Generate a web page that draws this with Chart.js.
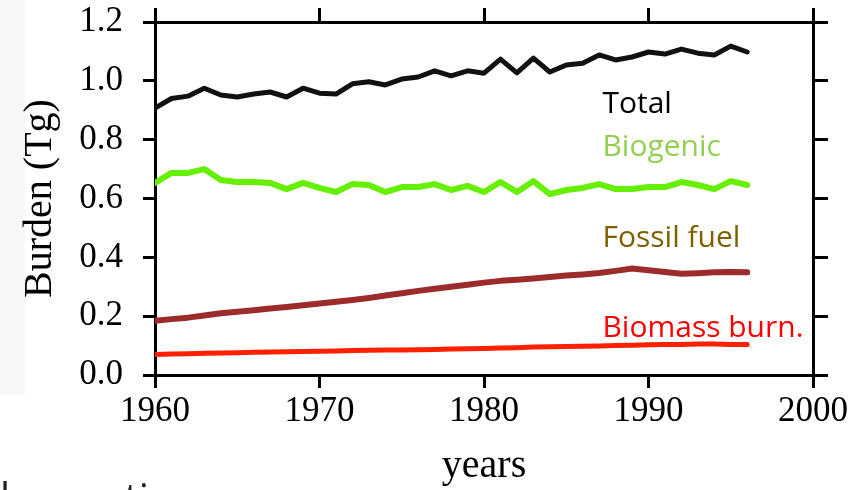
<!DOCTYPE html>
<html>
<head>
<meta charset="utf-8">
<script src="https://cdn.jsdelivr.net/npm/chart.js@4/dist/chart.umd.min.js"></script>
<style>
  html, body { margin: 0; padding: 0; background: #fff; }
  #wrap { width: 867px; height: 490px; position: relative; }
</style>
</head>
<body>
<div id="wrap"><canvas id="chart" width="867" height="490"></canvas></div>
<script>
const years = [1960, 1961, 1962, 1963, 1964, 1965, 1966, 1967, 1968, 1969,
               1970, 1971, 1972, 1973, 1974, 1975, 1976, 1977, 1978, 1979,
               1980, 1981, 1982, 1983, 1984, 1985, 1986, 1987, 1988, 1989,
               1990, 1991, 1992, 1993, 1994, 1995, 1996];

const total = [0.907, 0.940, 0.948, 0.975, 0.952, 0.945, 0.955, 0.962, 0.945, 0.975,
               0.958, 0.955, 0.990, 0.997, 0.986, 1.006, 1.013, 1.034, 1.017, 1.034,
               1.026, 1.074, 1.027, 1.077, 1.030, 1.054, 1.060, 1.088, 1.071, 1.081,
               1.098, 1.091, 1.108, 1.094, 1.088, 1.118, 1.098];

const biogenic = [0.653, 0.687, 0.687, 0.700, 0.663, 0.656, 0.656, 0.653, 0.632, 0.653,
                  0.636, 0.622, 0.649, 0.646, 0.622, 0.639, 0.639, 0.649, 0.629, 0.643,
                  0.622, 0.656, 0.622, 0.659, 0.615, 0.629, 0.636, 0.649, 0.632, 0.632,
                  0.639, 0.639, 0.656, 0.646, 0.632, 0.659, 0.646];

const fossil = [0.184, 0.190, 0.195, 0.202, 0.210, 0.215, 0.220, 0.226, 0.231, 0.237,
                0.243, 0.249, 0.255, 0.262, 0.270, 0.278, 0.286, 0.293, 0.300, 0.307,
                0.314, 0.320, 0.324, 0.328, 0.333, 0.338, 0.342, 0.347, 0.354, 0.362,
                0.356, 0.350, 0.344, 0.346, 0.349, 0.350, 0.349];

const biomass = [0.070, 0.071, 0.072, 0.074, 0.075, 0.076, 0.077, 0.078, 0.079, 0.080,
                 0.081, 0.082, 0.083, 0.084, 0.085, 0.085, 0.086, 0.087, 0.088, 0.089,
                 0.090, 0.092, 0.093, 0.095, 0.096, 0.097, 0.098, 0.099, 0.100, 0.101,
                 0.103, 0.104, 0.104, 0.105, 0.105, 0.104, 0.104];

const seriesNames = ["Total", "Biogenic", "Fossil fuel", "Biomass burn."];

// where the in-plot labels sit, in data units (year, burden at baseline)
const labelX = 1987.2;
const labelY = [0.891, 0.744, 0.435, 0.129];
const labelColors = ["#000000", "#92d050", "#7f6000", "#ff0000"];

function pts(vals) {
    return years.map((yr, i) => ({ x: yr, y: vals[i] }));
}

function axisGrid(len) {
    return {
        drawOnChartArea: false,
        drawTicks: true,
        tickLength: len,
        color: "#000",
        lineWidth: 3
    };
}

const border = { display: true, color: "#000", width: 3 };
const tickFont = { family: "Liberation Serif", size: 35 };

const seriesLabels = {
    id: "seriesLabels",
    afterDatasetsDraw(chart) {
        const ctx = chart.ctx;
        const x = chart.scales.x.getPixelForValue(labelX);
        ctx.save();
        ctx.font = "30px 'Open Sans'";
        ctx.textAlign = "left";
        ctx.textBaseline = "alphabetic";
        seriesNames.forEach((name, i) => {
            ctx.fillStyle = labelColors[i];
            ctx.fillText(name, x, chart.scales.y.getPixelForValue(labelY[i]));
        });
        ctx.restore();
    }
};

const backdrop = {
    id: "backdrop",
    beforeDraw(chart) {
        const ctx = chart.ctx;
        ctx.save();
        ctx.fillStyle = "#fff";
        ctx.fillRect(0, 0, chart.width, chart.height);
        ctx.fillStyle = "#f7f7f7";
        ctx.fillRect(0, 0, 25, 395);
        ctx.restore();
    },
    afterDraw(chart) {
        // cut-off caption from the slide under the figure
        const ctx = chart.ctx;
        ctx.save();
        ctx.font = "40px 'Open Sans'";
        ctx.fillStyle = "#222";
        ctx.textBaseline = "alphabetic";
        ctx.fillText("bservation", 0, 512);
        ctx.restore();
    }
};

// keep tick label overhang from pushing the plot area around
function noPad(s) {
    s.paddingTop = 0;
    s.paddingBottom = 0;
}

new Chart(document.getElementById("chart"), {
    type: "line",
    data: {
        datasets: [
            { label: seriesNames[0], data: pts(total), borderColor: "#111111", borderWidth: 5 },
            { label: seriesNames[1], data: pts(biogenic), borderColor: "#66f000", borderWidth: 6 },
            { label: seriesNames[2], data: pts(fossil), borderColor: "#9c2c2c", borderWidth: 6 },
            { label: seriesNames[3], data: pts(biomass), borderColor: "#ff2000", borderWidth: 5 }
        ]
    },
    options: {
        responsive: false,
        animation: false,
        layout: { padding: 0 },
        elements: {
            point: { radius: 0 },
            line: { tension: 0, borderCapStyle: "round", borderJoinStyle: "round" }
        },
        plugins: {
            legend: { display: false },
            tooltip: { enabled: false }
        },
        scales: {
            x: {
                type: "linear",
                position: "bottom",
                min: 1960,
                max: 2000,
                ticks: {
                    stepSize: 10,
                    color: "#000",
                    font: tickFont,
                    padding: 3,
                    maxRotation: 0,
                    callback: v => String(v)
                },
                grid: axisGrid(13),
                border: border,
                title: {
                    display: true,
                    text: "years",
                    color: "#000",
                    font: { family: "Liberation Serif", size: 40 },
                    padding: { top: 0, bottom: 0 }
                },
                afterFit: s => { s.height = 115; s.paddingLeft = 0; s.paddingRight = 0; }
            },
            x2: {
                type: "linear",
                position: "top",
                min: 1960,
                max: 2000,
                ticks: { stepSize: 10, display: false },
                grid: axisGrid(14),
                border: border,
                afterFit: s => { s.height = 22; s.paddingLeft = 0; s.paddingRight = 0; }
            },
            y: {
                position: "left",
                min: 0,
                max: 1.2,
                ticks: {
                    stepSize: 0.2,
                    color: "#000",
                    font: tickFont,
                    padding: 20,
                    callback: v => v.toFixed(1)
                },
                grid: axisGrid(12),
                border: border,
                title: {
                    display: true,
                    text: "Burden (Tg)",
                    color: "#000",
                    font: { family: "Liberation Serif", size: 40 },
                    padding: { top: 16, bottom: 0 }
                },
                afterFit: s => { s.width = 155; noPad(s); }
            },
            y2: {
                position: "right",
                min: 0,
                max: 1.2,
                ticks: { stepSize: 0.2, display: false },
                grid: axisGrid(15),
                border: border,
                afterFit: s => { s.width = 54; noPad(s); }
            }
        }
    },
    plugins: [backdrop, seriesLabels]
});
</script>
</body>
</html>
